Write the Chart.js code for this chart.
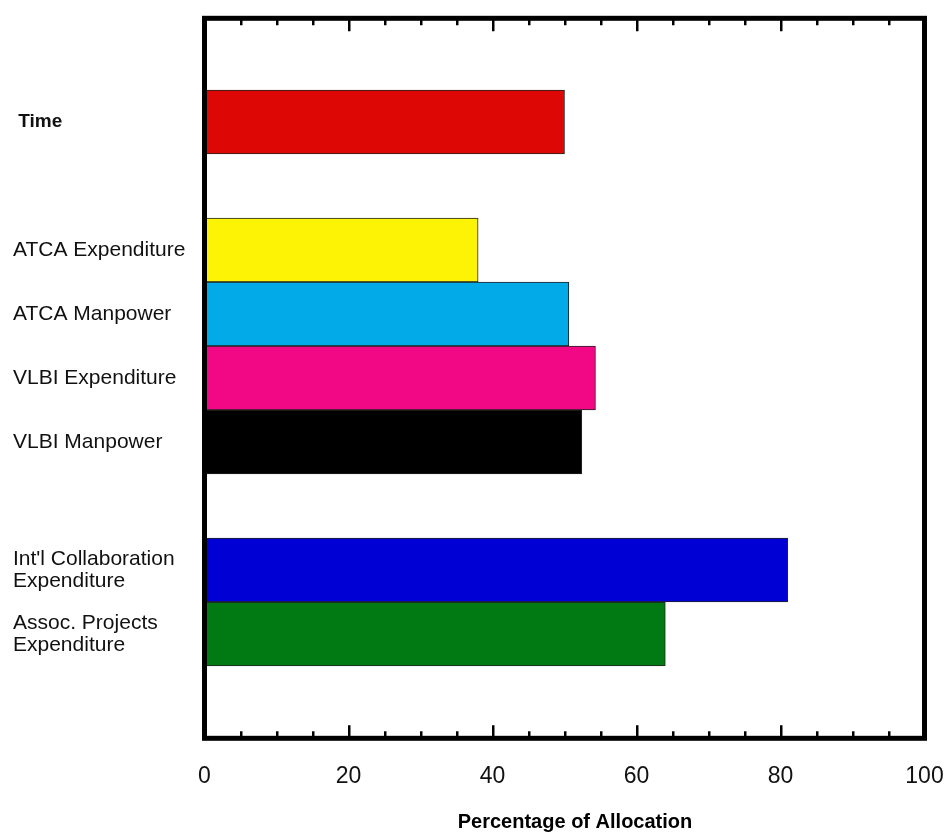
<!DOCTYPE html>
<html>
<head>
<meta charset="utf-8">
<script src="https://cdn.jsdelivr.net/npm/chart.js@4/dist/chart.umd.min.js"></script>
<style>
  html, body { margin: 0; padding: 0; background: #fff; }
  canvas { display: block; }
</style>
</head>
<body>
<canvas id="c" width="947" height="832"></canvas>
<script>
// Rows from top to bottom; empty rows are spacers between the groups.
const categories = [
  ['Time'],
  [],
  ['ATCA Expenditure'],
  ['ATCA Manpower'],
  ['VLBI Expenditure'],
  ['VLBI Manpower'],
  [],
  ["Int'l Collaboration", 'Expenditure'],
  ['Assoc. Projects', 'Expenditure']
];
const allocation = [50, null, 38, 50.6, 54.3, 52.4, null, 81, 64];
const barColors = ['#DD0806', null, '#FCF305', '#02ABE8', '#F20884', '#000000', null, '#0000D4', '#027A14'];
const boldLabels = ['Time'];
const xTicks = [0, 20, 40, 60, 80, 100];
const xTitle = 'Percentage of Allocation';

const FONT = '"Liberation Sans", Arial, sans-serif';

const rows = categories.map((c, i) => i).filter(i => allocation[i] !== null);
const points = rows.map(i => ({ x: allocation[i], y: i }));
const colors = rows.map(i => barColors[i]);

// Thick frame, inward axis ticks and the axis title
const framePlugin = {
  id: 'frame',
  afterDraw(chart) {
    const { ctx, chartArea: a, scales: { x } } = chart;
    ctx.save();
    ctx.strokeStyle = '#000';
    ctx.lineWidth = 2.5;
    const minorStep = 5;
    for (let v = xTicks[0] + minorStep; v < xTicks[xTicks.length - 1]; v += minorStep) {
      const px = Math.round(x.getPixelForValue(v)) + 0.25;
      const len = xTicks.includes(v) ? 13 : 7;
      ctx.beginPath();
      ctx.moveTo(px, a.top);
      ctx.lineTo(px, a.top + len);
      ctx.moveTo(px, a.bottom);
      ctx.lineTo(px, a.bottom - len);
      ctx.stroke();
    }
    ctx.lineWidth = 5;
    ctx.strokeRect(a.left, a.top, a.right - a.left, a.bottom - a.top);

    ctx.fillStyle = '#000';
    ctx.font = 'bold 20px ' + FONT;
    ctx.textAlign = 'center';
    ctx.textBaseline = 'middle';
    ctx.fillText(xTitle, 575, 822);
    ctx.restore();
  }
};

new Chart(document.getElementById('c'), {
  type: 'bar',
  data: {
    datasets: [{
      data: points,
      backgroundColor: colors,
      borderColor: '#222',
      borderWidth: { top: 1, right: 1, bottom: 1, left: 0 },
      borderSkipped: false,
      barPercentage: 1,
      categoryPercentage: 1
    }]
  },
  options: {
    indexAxis: 'y',
    responsive: false,
    animation: false,
    events: [],
    layout: { padding: { top: 18.3, left: 13, right: 22.5, bottom: 0 } },
    plugins: { legend: { display: false }, tooltip: { enabled: false }, title: { display: false } },
    scales: {
      x: {
        type: 'linear',
        position: 'bottom',
        min: 0,
        max: 100,
        offset: false,
        afterBuildTicks: s => { s.ticks = xTicks.map(v => ({ value: v })); },
        afterFit: s => {
          s.height = 832 - 738.3;
          s.paddingLeft = 0;
          s.paddingRight = 0;
        },
        grid: { display: false, drawTicks: false, offset: false },
        border: { display: false },
        ticks: {
          color: '#111',
          padding: 25,
          font: { family: FONT, size: 23 },
          maxRotation: 0
        }
      },
      y: {
        type: 'linear',
        reverse: true,
        bounds: 'data',
        offset: false,
        min: -1.62,
        max: categories.length - 1 + 1.63,
        afterBuildTicks: s => {
          s.ticks = categories.map((c, i) => i).filter(i => categories[i].length).map(v => ({ value: v }));
        },
        afterFit: s => {
          s.width = 204.5 - 13;
          s.paddingTop = 0;
          s.paddingBottom = 0;
        },
        grid: { display: false, drawTicks: false, offset: false },
        border: { display: false },
        ticks: {
          autoSkip: false,
          crossAlign: 'far',
          color: '#111',
          padding: 10,
          callback: v => {
            const lbl = categories[v];
            // header rows sit slightly indented
            return boldLabels.includes(lbl[0]) ? lbl.map(t => ' ' + t) : lbl;
          },
          font: ctx => {
            const lbl = categories[ctx.tick ? ctx.tick.value : 0] || [];
            const bold = boldLabels.includes(lbl[0]);
            return { family: FONT, size: bold ? 19 : 21, weight: bold ? 'bold' : 'normal', lineHeight: 1.06 };
          }
        }
      }
    }
  },
  plugins: [framePlugin]
});
</script>
</body>
</html>
